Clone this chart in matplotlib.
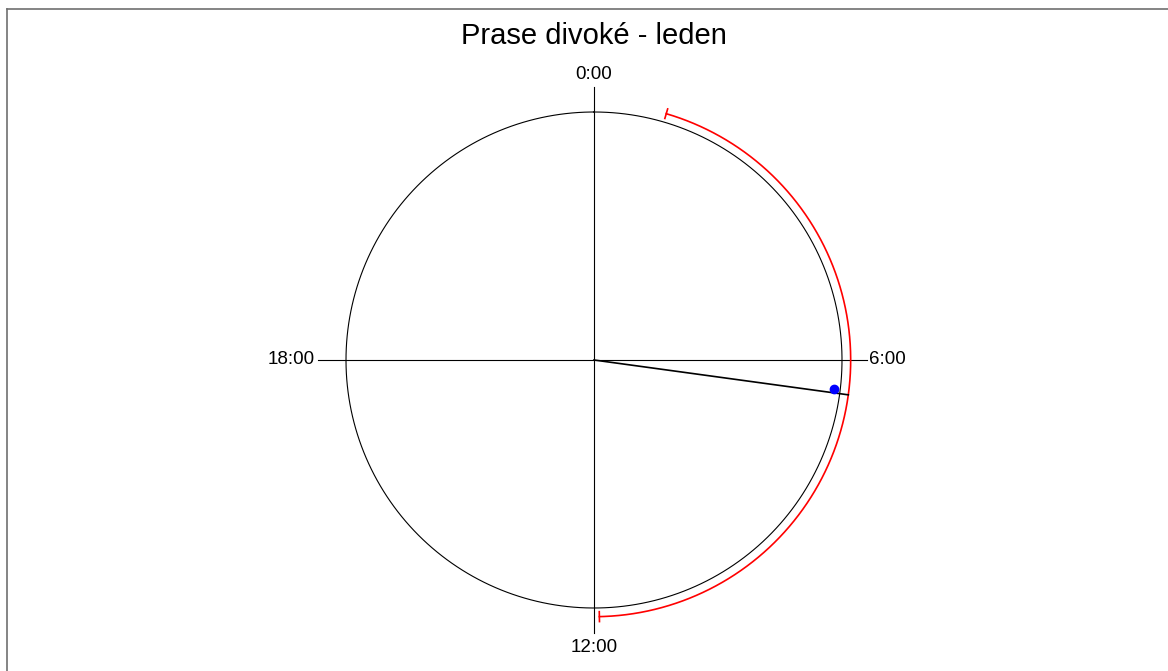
import numpy as np
import matplotlib.pyplot as plt

plt.rcParams['font.family'] = ['Liberation Sans', 'DejaVu Sans']

# Data (hours on a 24 h clock)
title = "Prase divoké - leden"
hour_labels = ["0:00", "6:00", "12:00", "18:00"]
mean_hour = 6.52      # mean direction of activity
ci_low = 1.09         # confidence arc start
ci_high = 11.92       # confidence arc end
point_hours = [6.46]  # observation shown as blue dot
point_radius = 0.975


def clock_xy(hour, r):
    # 0:00 on top, clockwise
    a = np.deg2rad(hour * 15.0)
    return r * np.sin(a), r * np.cos(a)


fig = plt.figure(figsize=(11.68, 6.71), dpi=100)
ax = fig.add_axes([0, 0, 1, 1])
ax.set_xlim(-594 / 248, (1168 - 594) / 248)
ax.set_ylim(-(671 - 360) / 248, 360 / 248)
ax.axis('off')

# unit circle
t = np.linspace(0, 24, 500)
cx, cy = clock_xy(t, 1.0)
ax.plot(cx, cy, color='black', lw=0.8)

# cross-hair axes
ax.plot([0, 0], [-1.1, 1.1], color='black', lw=0.8)
ax.plot([-1.113, 1.1], [0, 0], color='black', lw=0.8)

# hour labels
ax.text(0, 1.153, hour_labels[0], ha='center', va='center', fontsize=13.5)
ax.text(1.11, 0, hour_labels[1], ha='left', va='center', fontsize=13.5)
ax.text(0, -1.161, hour_labels[2], ha='center', va='center', fontsize=13.5)
ax.text(-1.125, 0, hour_labels[3], ha='right', va='center', fontsize=13.5)

# confidence arc
r_arc = 1.035
ta = np.linspace(ci_low, ci_high, 300)
axx, ayy = clock_xy(ta, r_arc)
ax.plot(axx, ayy, color='red', lw=1.2)
for h in (ci_low, ci_high):
    x0, y0 = clock_xy(h, r_arc - 0.02)
    x1, y1 = clock_xy(h, r_arc + 0.02)
    ax.plot([x0, x1], [y0, y1], color='red', lw=1.2)

# mean direction
mx, my = clock_xy(mean_hour, r_arc)
ax.plot([0, mx], [0, my], color='black', lw=1.2)

# observations
px, py = clock_xy(np.array(point_hours), point_radius)
ax.plot(px, py, 'o', color='blue', markersize=6, zorder=5)

ax.text(0, (360 - 36) / 248, title, ha='center', va='center', fontsize=21)

# outer frame (only top and left edges visible)
fig.add_artist(plt.Line2D([7 / 1168, 1], [1 - 9 / 671, 1 - 9 / 671],
                          transform=fig.transFigure, color='#707070', lw=1.2))
fig.add_artist(plt.Line2D([7 / 1168, 7 / 1168], [0, 1 - 9 / 671],
                          transform=fig.transFigure, color='#707070', lw=1.2))

fig.savefig('out.png', dpi=100)
